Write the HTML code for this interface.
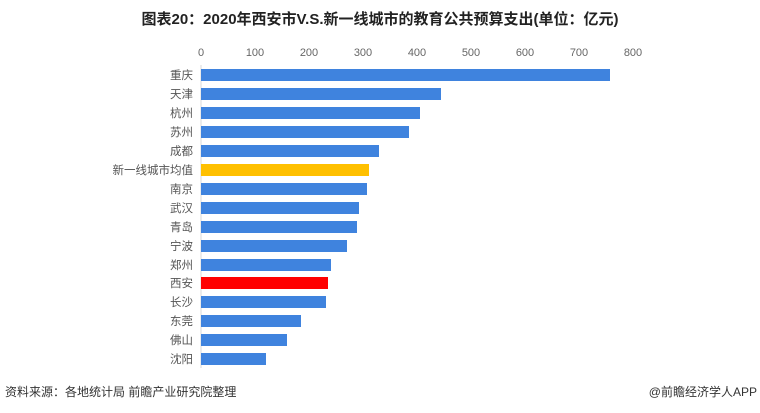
<!DOCTYPE html>
<html><head><meta charset="utf-8"><style>
body{margin:0;background:#fff;}
svg{display:block;font-family:"Liberation Sans","Noto Sans CJK SC",sans-serif;}
</style></head><body>
<svg width="760" height="413" viewBox="0 0 760 413">
<text x="380" y="24" text-anchor="middle" font-size="15" font-weight="bold" fill="#222">图表20：2020年西安市V.S.新一线城市的教育公共预算支出(单位：亿元)</text>
<g font-size="11" fill="#666" text-anchor="middle">
<text x="201" y="56">0</text><text x="255" y="56">100</text><text x="309" y="56">200</text><text x="363" y="56">300</text><text x="417" y="56">400</text><text x="471" y="56">500</text><text x="525" y="56">600</text><text x="579" y="56">700</text><text x="633" y="56">800</text>
</g>
<line x1="201" y1="65" x2="201" y2="368" stroke="#d9d9d9"/>
<g font-size="11.5" fill="#555" text-anchor="end">
<rect x="201" y="69" width="409" height="12" fill="#3f83de"/><text x="193" y="79">重庆</text>
<rect x="201" y="88" width="240" height="12" fill="#3f83de"/><text x="193" y="98">天津</text>
<rect x="201" y="107" width="219" height="12" fill="#3f83de"/><text x="193" y="117">杭州</text>
<rect x="201" y="126" width="208" height="12" fill="#3f83de"/><text x="193" y="136">苏州</text>
<rect x="201" y="145" width="178" height="12" fill="#3f83de"/><text x="193" y="155">成都</text>
<rect x="201" y="164" width="168" height="12" fill="#ffc000"/><text x="193" y="174">新一线城市均值</text>
<rect x="201" y="183" width="166" height="12" fill="#3f83de"/><text x="193" y="193">南京</text>
<rect x="201" y="202" width="158" height="12" fill="#3f83de"/><text x="193" y="212">武汉</text>
<rect x="201" y="221" width="156" height="12" fill="#3f83de"/><text x="193" y="231">青岛</text>
<rect x="201" y="240" width="146" height="12" fill="#3f83de"/><text x="193" y="250">宁波</text>
<rect x="201" y="259" width="130" height="12" fill="#3f83de"/><text x="193" y="269">郑州</text>
<rect x="201" y="277" width="127" height="12" fill="#ff0000"/><text x="193" y="287">西安</text>
<rect x="201" y="296" width="125" height="12" fill="#3f83de"/><text x="193" y="306">长沙</text>
<rect x="201" y="315" width="100" height="12" fill="#3f83de"/><text x="193" y="325">东莞</text>
<rect x="201" y="334" width="86" height="12" fill="#3f83de"/><text x="193" y="344">佛山</text>
<rect x="201" y="353" width="65" height="12" fill="#3f83de"/><text x="193" y="363">沈阳</text>
</g>
<text x="5" y="396" font-size="12" fill="#333">资料来源：各地统计局 前瞻产业研究院整理</text>
<text x="757" y="396" font-size="12" fill="#333" text-anchor="end">@前瞻经济学人APP</text>
</svg>
</body></html>
